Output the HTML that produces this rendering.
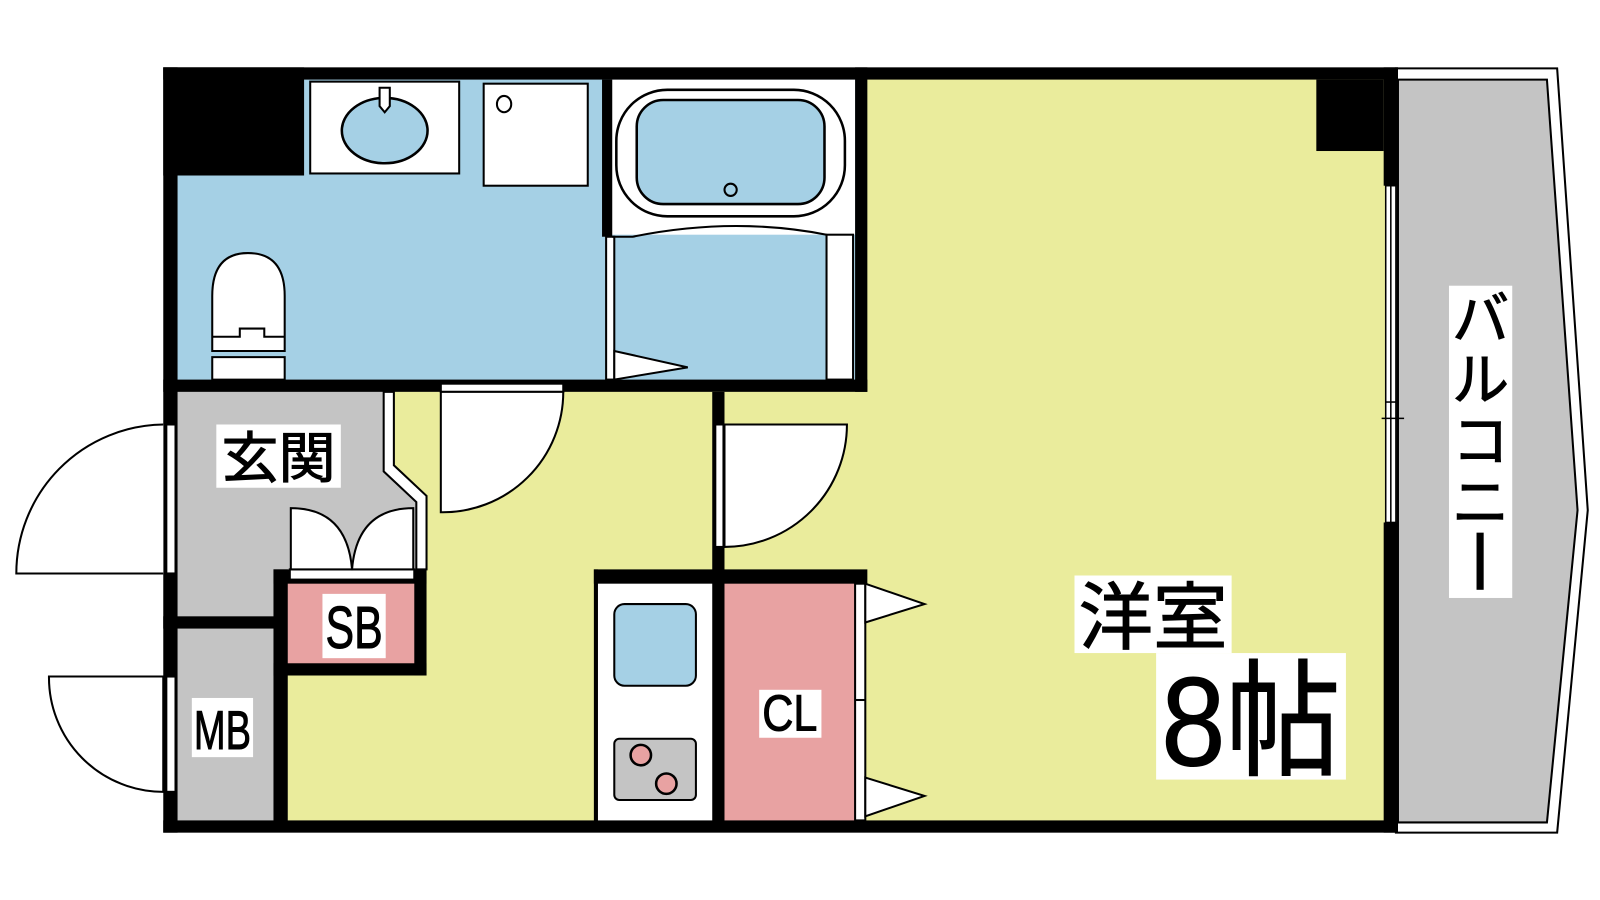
<!DOCTYPE html>
<html><head><meta charset="utf-8"><style>
html,body{margin:0;padding:0;background:#fff;width:1600px;height:900px;overflow:hidden}
svg{display:block}
text{font-family:"Liberation Sans","Noto Sans CJK JP",sans-serif;fill:#000;stroke:#000;stroke-width:1}
</style></head><body>
<svg width="1600" height="900" viewBox="0 0 1568 882" preserveAspectRatio="none" xmlns="http://www.w3.org/2000/svg">
<rect width="1568" height="882" fill="#fff"/>
<!-- balcony -->
<polygon points="1368,67 1526,67 1556,500 1526,816 1368,816" fill="#fff" stroke="#000" stroke-width="2"/>
<polygon points="1370,78 1516,78 1546,500 1516,806 1370,806" fill="#c4c4c4" stroke="#000" stroke-width="2"/>
<!-- floors -->
<rect x="170" y="378" width="1190" height="430" fill="#eaec9c"/>
<rect x="840" y="72" width="520" height="320" fill="#eaec9c"/>
<rect x="170" y="72" width="672" height="306" fill="#a5d0e5"/>
<rect x="598" y="78" width="240" height="152" fill="#fff"/>
<polygon points="170,380 382,380 382,462 412,490 412,608 170,608" fill="#c4c4c4"/>
<rect x="170" y="600" width="104" height="208" fill="#c4c4c4"/>
<rect x="278" y="566" width="132" height="90" fill="#e8a2a2"/>
<rect x="584" y="566" width="116" height="240" fill="#fff"/>
<rect x="706" y="566" width="134" height="240" fill="#e8a2a2"/>
<!-- walls -->
<g fill="#000">
<rect x="160" y="66" width="1210" height="12"/>
<rect x="160" y="804" width="1210" height="12"/>
<rect x="160" y="66" width="14" height="750"/>
<rect x="160" y="66" width="138" height="106"/>
<rect x="1290" y="78" width="66" height="70"/>
<rect x="1356" y="66" width="14" height="116"/>
<rect x="1356" y="512" width="14" height="304"/>
<rect x="160" y="372" width="690" height="12"/>
<rect x="838" y="66" width="12" height="318"/>
<rect x="590" y="78" width="10" height="154"/>
<rect x="160" y="604" width="114" height="12"/>
<rect x="268" y="558" width="14" height="250"/>
<rect x="268" y="558" width="150" height="14"/>
<rect x="406" y="558" width="12" height="104"/>
<rect x="268" y="650" width="150" height="12"/>
<rect x="698" y="384" width="12" height="424"/>
<rect x="582" y="558" width="268" height="14"/>
<rect x="582" y="558" width="4" height="250"/>
</g>
<!-- balcony window -->
<g fill="#fff" stroke="#000" stroke-width="1.5">
<rect x="1358" y="182" width="10" height="330"/>
<line x1="1363" y1="182" x2="1363" y2="512"/>
<line x1="1354" y1="410" x2="1376" y2="410"/>
<line x1="1358" y1="394" x2="1368" y2="394"/>
</g>
<g fill="#fff" stroke="#000" stroke-width="2">
<rect x="163" y="416" width="9" height="146"/>
<path d="M160,416 A146,146 0 0 0 16,562 L160,562"/>
<rect x="163" y="663" width="9" height="113"/>
<path d="M48,663 L160,663 L160,776 A112,112 0 0 1 48,663 Z"/>
<rect x="432" y="376" width="120" height="8"/>
<path d="M432,384 L552,384 A118,118 0 0 1 432,502 Z"/>
<rect x="701" y="416" width="8" height="120"/>
<path d="M710,416 L830,416 A120,120 0 0 1 710,536 Z"/>
<path d="M376,384 L386,384 L386,456 L418,486 L418,558 L408,558 L408,492 L376,462 Z"/>
<rect x="284" y="558" width="122" height="10"/>
<path d="M285,558 L285,498 Q340,498 345,558 Z"/>
<path d="M405,558 L405,498 Q350,498 345,558 Z"/>
<rect x="838" y="572" width="10" height="232"/>
<line x1="838" y1="686" x2="848" y2="686"/>
<polygon points="848,572 906,592 848,610"/>
<polygon points="848,762 906,780 848,800"/>
<rect x="594" y="232" width="8" height="140"/>
<polygon points="602,344 674,360 602,372"/>
<rect x="810" y="230" width="26" height="142"/>
</g>
<path d="M600,232 L620,232 Q718,212 810,230" fill="none" stroke="#000" stroke-width="2"/>
<rect x="604" y="88" width="224" height="124" rx="50" fill="#fff" stroke="#000" stroke-width="2.5"/>
<rect x="624" y="98" width="184" height="102" rx="26" fill="#a5d0e5" stroke="#000" stroke-width="2.5"/>
<circle cx="716" cy="186" r="6" fill="none" stroke="#000" stroke-width="2"/>
<rect x="304" y="80" width="146" height="90" fill="#fff" stroke="#000" stroke-width="2"/>
<ellipse cx="377" cy="128" rx="42" ry="32" fill="#a5d0e5" stroke="#000" stroke-width="2.5"/>
<path d="M372,86 L382,86 L382,104 L377,110 L372,104 Z" fill="#fff" stroke="#000" stroke-width="2"/>
<rect x="474" y="82" width="102" height="100" fill="#fff" stroke="#000" stroke-width="2"/>
<ellipse cx="494" cy="102" rx="7" ry="8" fill="none" stroke="#000" stroke-width="2"/>
<path d="M208,372 L208,350 L279,350 L279,372 Z" fill="#fff" stroke="#000" stroke-width="2"/>
<path d="M208,344 L208,290 Q208,248 243,248 Q279,248 279,290 L279,344 Z M208,330 L235,330 L235,322 L259,322 L259,330 L279,330" fill="#fff" stroke="#000" stroke-width="2"/>
<rect x="602" y="592" width="80" height="80" rx="10" fill="#a5d0e5" stroke="#000" stroke-width="2"/>
<rect x="602" y="724" width="80" height="60" rx="5" fill="#c4c4c4" stroke="#000" stroke-width="2"/>
<circle cx="628" cy="740" r="10" fill="#e8a2a2" stroke="#000" stroke-width="2.5"/>
<circle cx="653" cy="768" r="10" fill="#e8a2a2" stroke="#000" stroke-width="2.5"/>
<rect x="212" y="416" width="122" height="62" fill="#fff"/>
<text x="273" y="468" font-size="54" text-anchor="middle" textLength="112" lengthAdjust="spacingAndGlyphs">玄関</text>
<rect x="316" y="582" width="62" height="63" fill="#fff"/>
<text x="347" y="635" font-size="58" text-anchor="middle" textLength="56" lengthAdjust="spacingAndGlyphs">SB</text>
<rect x="188" y="684" width="60" height="58" fill="#fff"/>
<text x="218" y="734" font-size="54" text-anchor="middle" textLength="56" lengthAdjust="spacingAndGlyphs">MB</text>
<rect x="744" y="676" width="61" height="47" fill="#fff"/>
<text x="774" y="716" font-size="50" text-anchor="middle" textLength="54" lengthAdjust="spacingAndGlyphs">CL</text>
<rect x="1053" y="564" width="154" height="76" fill="#fff"/>
<text x="1130" y="630" font-size="72" text-anchor="middle" textLength="146" lengthAdjust="spacingAndGlyphs">洋室</text>
<rect x="1133" y="640" width="186" height="124" fill="#fff"/>
<text x="1226" y="750" font-size="124" text-anchor="middle" textLength="176" lengthAdjust="spacingAndGlyphs">8帖</text>
<rect x="1420" y="280" width="62" height="306" fill="#fff"/>
<g font-size="56" text-anchor="middle">
<text x="1451" y="332">バ</text>
<text x="1451" y="392">ル</text>
<text x="1451" y="452">コ</text>
<text x="1451" y="512">ニ</text>
</g>
<rect x="1447" y="522" width="7" height="56" fill="#000"/>
</svg>
</body></html>
